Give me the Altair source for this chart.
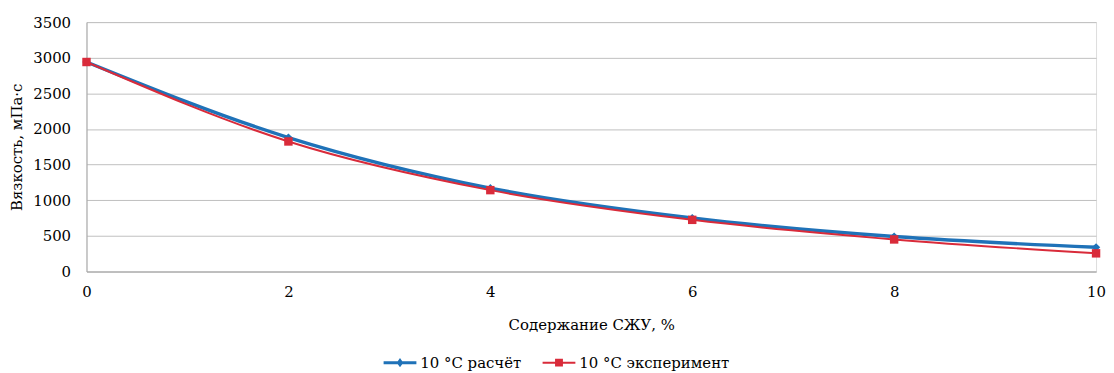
import altair as alt
import pandas as pd

x_vals = [0, 2, 4, 6, 8, 10]
calc_vals = [2940, 1880, 1170, 750, 490, 340]
exp_vals = [2940, 1825, 1142, 725, 450, 255]
series_names = ["10 °C расчёт", "10 °C эксперимент"]
colors = ["#1F72B8", "#D92B3A"]
y_ticks = [0, 500, 1000, 1500, 2000, 2500, 3000, 3500]
x_ticks = [0, 2, 4, 6, 8, 10]

rows = []
for x, v in zip(x_vals, calc_vals):
    rows.append({"x": x, "y": v, "s": series_names[0]})
for x, v in zip(x_vals, exp_vals):
    rows.append({"x": x, "y": v, "s": series_names[1]})
df = pd.DataFrame(rows)

FONT = "DejaVu Serif"
FS = 15
color_scale = alt.Scale(domain=series_names, range=colors)

xenc = alt.X("x:Q", scale=alt.Scale(domain=[0, 10], nice=False),
             axis=alt.Axis(values=x_ticks, title="Содержание СЖУ, %", grid=False,
                           ticks=False, labelPadding=13, titlePadding=18, format="d",
                           labelFlush=False,
                           domainColor="#A6A6A6", labelFont=FONT, titleFont=FONT,
                           labelFontSize=FS, titleFontSize=FS, titleFontWeight="normal",
                           labelColor="#000", titleColor="#000"))
yenc = alt.Y("y:Q", scale=alt.Scale(domain=[0, 3500], nice=False),
             axis=alt.Axis(values=y_ticks, title="Вязкость,  мПа·с", grid=True,
                           gridColor="#BFBFBF", ticks=False, labelPadding=16,
                           titlePadding=8, domainColor="#A6A6A6", format="d",
                           labelFlush=False,
                           labelFont=FONT, titleFont=FONT, labelFontSize=FS,
                           titleFontSize=FS, titleFontWeight="normal",
                           labelColor="#000", titleColor="#000"))

base = alt.Chart(df)
calc = base.transform_filter(alt.datum.s == series_names[0])
exp = base.transform_filter(alt.datum.s == series_names[1])

line_calc = calc.mark_line(interpolate="monotone", strokeWidth=3.5, color=colors[0]).encode(x=xenc, y=yenc)
line_exp = exp.mark_line(interpolate="monotone", strokeWidth=2, color=colors[1]).encode(x=xenc, y=yenc)
pt_calc = calc.mark_point(shape="diamond", filled=True, size=70, opacity=1, color=colors[0]).encode(x=xenc, y=yenc)
pt_exp = exp.mark_point(shape="square", filled=True, size=72, opacity=1, color=colors[1]).encode(x=xenc, y=yenc)

legend_shapes = [
    "M-3,-0.28H3V0.28H-3Z M0,-0.84L0.6,0L0,0.84L-0.6,0Z",
    "M-3,-0.18H3V0.18H-3Z M-0.72,-0.72H0.72V0.72H-0.72Z",
]
legend_layer = base.transform_filter("false").mark_point(filled=True, size=121, opacity=1).encode(
    x=xenc, y=yenc,
    color=alt.Color("s:N", scale=color_scale,
                    legend=alt.Legend(title=None, orient="none", direction="horizontal",
                                      legendX=308, legendY=335, symbolSize=121,
                                      symbolOpacity=1,
                                      labelFont=FONT, labelFontSize=FS,
                                      labelColor="#000", labelOffset=13,
                                      columnPadding=21, symbolStrokeWidth=0)),
    shape=alt.Shape("s:N", scale=alt.Scale(domain=series_names, range=legend_shapes)),
)

chart = alt.layer(line_calc, line_exp, pt_calc, pt_exp, legend_layer).properties(
    width=1016, height=251,
    autosize=alt.AutoSizeParams(type="none"),
    padding={"left": 79, "top": 13, "right": 10, "bottom": 110},
).configure_view(stroke=None).configure(background="white")

chart.save("out.html", embed_options={"renderer": "svg", "actions": False})
